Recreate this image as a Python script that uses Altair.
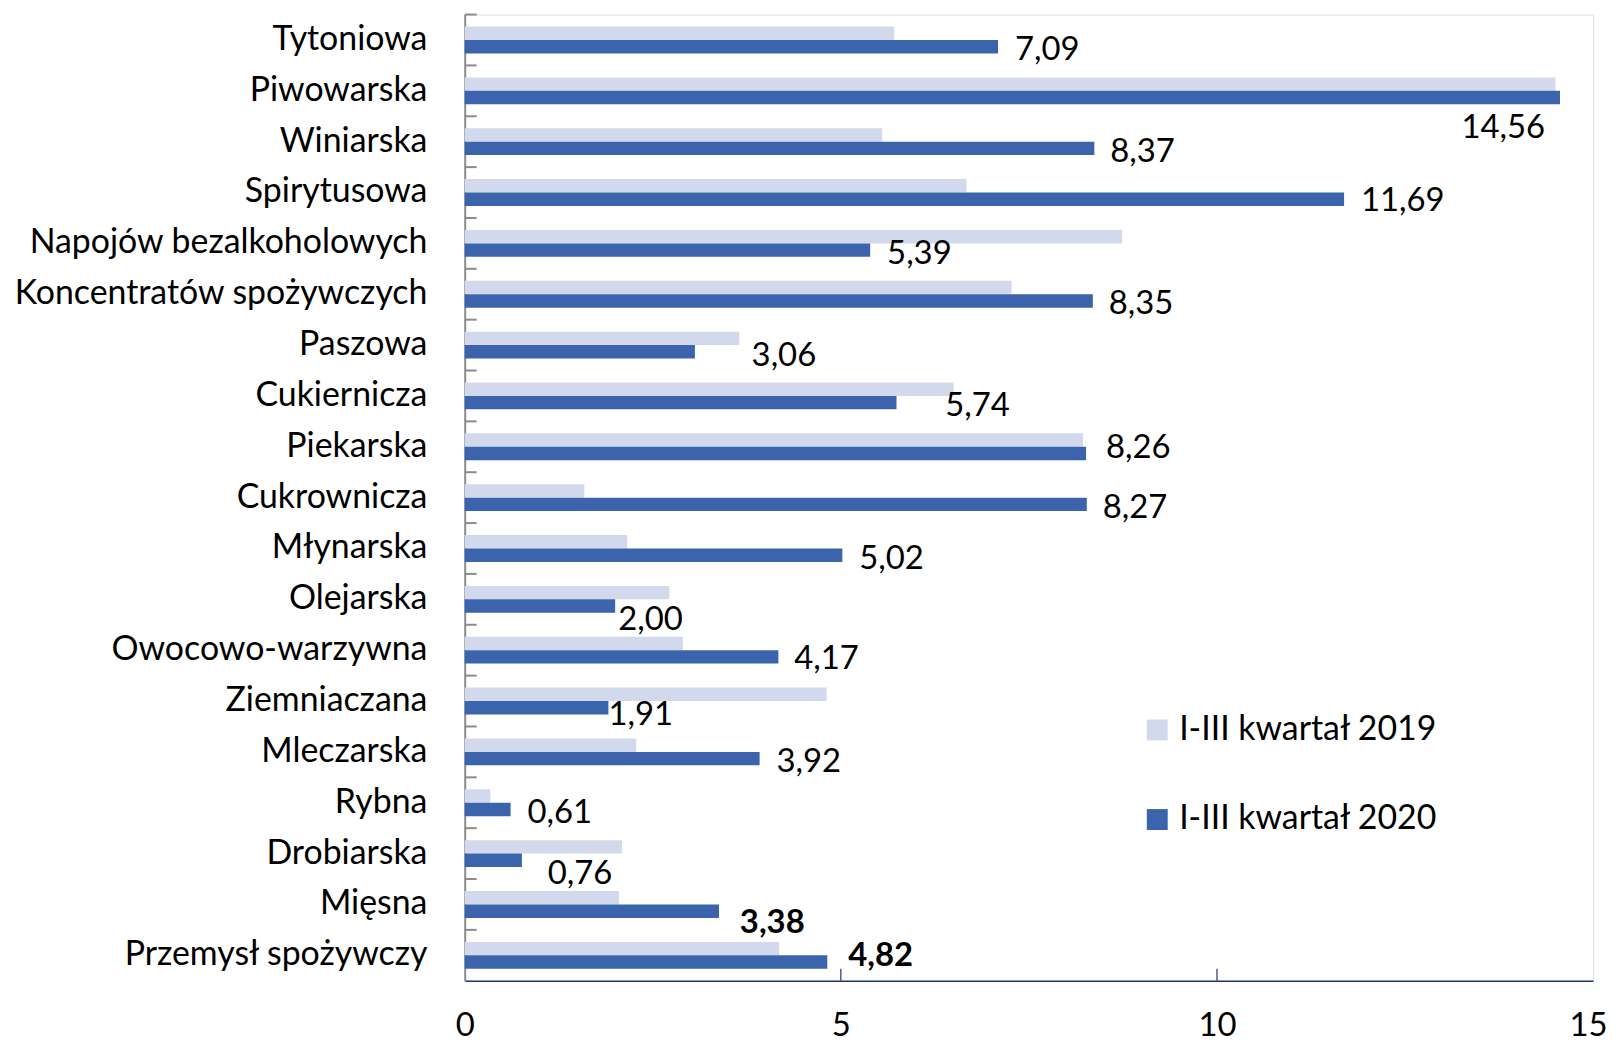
import altair as alt
import pandas as pd

categories = ["Tytoniowa", "Piwowarska", "Winiarska", "Spirytusowa", "Napojów bezalkoholowych",
              "Koncentratów spożywczych", "Paszowa", "Cukiernicza", "Piekarska", "Cukrownicza",
              "Młynarska", "Olejarska", "Owocowo-warzywna", "Ziemniaczana", "Mleczarska",
              "Rybna", "Drobiarska", "Mięsna", "Przemysł spożywczy"]
values_2019 = [5.71, 14.50, 5.55, 6.67, 8.74, 7.27, 3.65, 6.50, 8.22, 1.59,
               2.16, 2.72, 2.90, 4.81, 2.28, 0.34, 2.09, 2.05, 4.18]
values_2020 = [7.09, 14.56, 8.37, 11.69, 5.39, 8.35, 3.06, 5.74, 8.26, 8.27,
               5.02, 2.00, 4.17, 1.91, 3.92, 0.61, 0.76, 3.38, 4.82]
series = ["I-III kwartał 2019", "I-III kwartał 2020"]
x_ticks = [0, 5, 10, 15]

# label placement (pixel nudges) and weight, separate from data
label_dx = [17, -99, 16, 17, 17, 16, 57, 49, 20, 16, 17, 3, 16, 0, 17, 17, 26, 21, 21]
label_dy = [1, 28, 1, 0, 2, 1, 2, 1, -8, 1, 2, 12, 0, 5, 1, 1, 12, 10, -8]
label_bold = [False] * 17 + [True, True]

FONT = "Lato"
W, H = 1134, 971
LIGHT, DARK = "#D3D9EC", "#3C64AC"
NAVY = "#1F3A6E"

rows = []
for c, a, b in zip(categories, values_2019, values_2020):
    rows.append({"cat": c, "series": series[0], "value": a})
    rows.append({"cat": c, "series": series[1], "value": b})
df = pd.DataFrame(rows)

lab = pd.DataFrame({"cat": categories, "value": values_2020,
                    "text": [f"{v:.2f}".replace(".", ",") for v in values_2020]})

xscale = alt.Scale(domain=[0, 15], nice=False, zero=True)
yscale = alt.Scale(paddingInner=0.472, paddingOuter=0.236)

bars = alt.Chart(df).mark_bar().encode(
    y=alt.Y("cat:N", sort=categories, scale=yscale, title=None,
            axis=alt.Axis(ticks=False, labelPadding=38, labelFont=FONT, labelFontSize=34,
                          labelColor="#000000", domainColor="#8C8C8C", domainWidth=2,
                          labelLimit=0)),
    x=alt.X("value:Q", scale=xscale, title=None,
            axis=alt.Axis(values=x_ticks, format="d", ticks=False, grid=False, labelFont=FONT,
                          labelFontSize=33, labelColor="#000000", labelPadding=29,
                          labelOffset={"condition": {"test": "datum.value >= 15", "value": -5},
                                       "value": 0},
                          domainColor=NAVY, domainWidth=1.5, labelFlush=False)),
    yOffset=alt.YOffset("series:N", sort=series),
    color=alt.Color("series:N", sort=series,
                    scale=alt.Scale(domain=series, range=[LIGHT, DARK]),
                    legend=alt.Legend(title=None, orient="none", legendX=679, legendY=702,
                                      symbolType="square", symbolSize=441,
                                      symbolStrokeWidth=0, labelFont=FONT,
                                      labelFontSize=34, labelColor="#000000",
                                      labelOffset=5, rowPadding=56, padding=0,
                                      labelLimit=0)),
)

texts = []
for i, c in enumerate(categories):
    t = alt.Chart(lab).transform_filter(alt.datum.cat == c).mark_text(
        align="left", baseline="middle", dx=label_dx[i], dy=label_dy[i] + 9,
        font=FONT, fontSize=33, color="#000000",
        fontWeight="bold" if label_bold[i] else "normal",
    ).encode(
        y=alt.Y("cat:N", sort=categories, scale=yscale),
        x=alt.X("value:Q", scale=xscale),
        text="text:N",
    )
    texts.append(t)

xtick = alt.Chart(pd.DataFrame({"t": [5, 10]})).mark_rule(color=NAVY, strokeWidth=1.2).encode(
    x=alt.X("t:Q", scale=xscale),
    y=alt.value(H - 12),
    y2=alt.value(H),
)

inner = alt.layer(bars, xtick, *texts)

yticks = alt.Chart(pd.DataFrame({"cat": categories})).mark_rule(
    color="#8C8C8C", strokeWidth=2
).encode(
    y=alt.Y("cat:N", sort=categories, bandPosition=0,
            scale=alt.Scale(paddingInner=0, paddingOuter=0), axis=None),
    x=alt.value(0),
    x2=alt.value(12),
)

chart = alt.layer(inner, yticks).resolve_scale(y="independent").properties(
    width=W, height=H,
    autosize=alt.AutoSizeParams(type="none"),
    padding={"left": 459, "top": 4, "right": 17, "bottom": 62},
).configure_view(stroke=NAVY, strokeWidth=1.5).configure(background="white")

chart.save("out.html", embed_options={"renderer": "svg", "actions": False})
